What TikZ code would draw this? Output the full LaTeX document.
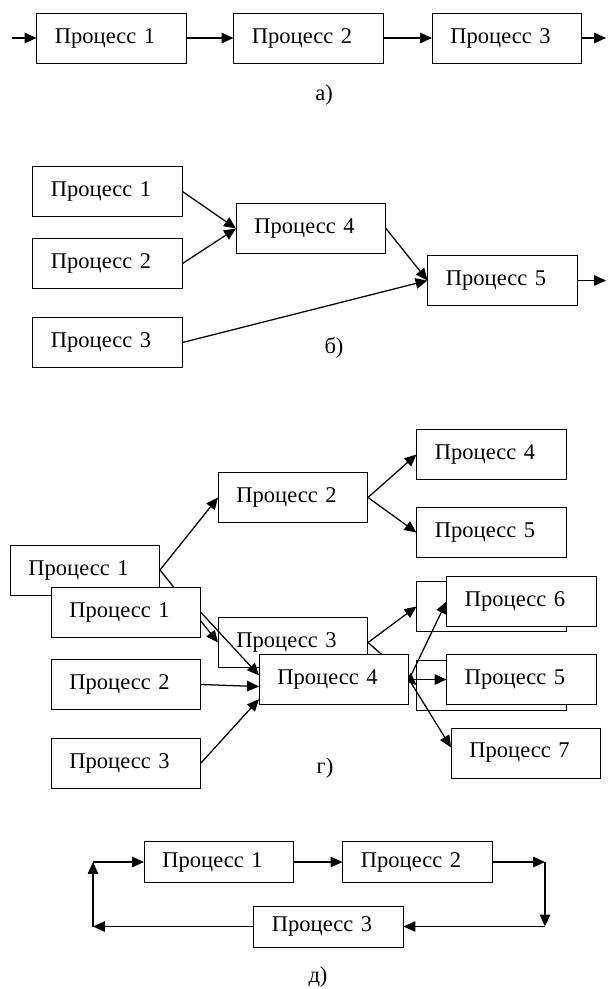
\documentclass[tikz,border=0pt]{standalone}
\usepackage{fontspec}
\setmainfont{Liberation Serif}
\usetikzlibrary{arrows.meta}
\tikzset{proc/.style = {draw, fill = white, line width = 0.7pt, minimum height = 1.25cm, text width = 2.825cm, inner xsep = 0.45cm, align = left},
  arr/.style = {line width = 0.9pt, -{Triangle[length = 8.5pt, width = 7.5pt]}}}

\begin{document}
\begin{tikzpicture}[x = 0.025cm, y = -0.025cm, font = \fontsize{16pt}{19pt}\selectfont]
    \useasboundingbox (0, 0) rectangle (608, 989);

    % a)
    \node [proc] (a1) at (111.5, 38) {Процесс 1};
    \node [proc] (a2) at (308.5, 38) {Процесс 2};
    \node [proc] (a3) at (507, 38) {Процесс 3};
    \coordinate (ain) at (12, 38);
    \coordinate (aout) at (606, 38);
    \draw [arr] (ain) -- (a1);
    \draw [arr] (a1) -- (a2);
    \draw [arr] (a2) -- (a3);
    \draw [arr] (a3) -- (aout);
    \node (la) at (324, 95) {а)};

    % b)
    \node [proc] (b1) at (107.5, 191.5) {Процесс 1};
    \node [proc] (b2) at (107.5, 263.5) {Процесс 2};
    \node [proc] (b3) at (107.5, 342.5) {Процесс 3};
    \node [proc] (b4) at (311, 228.5) {Процесс 4};
    \node [proc] (b5) at (502.5, 280.5) {Процесс 5};
    \coordinate (bout) at (606, 280.5);
    \draw [arr] (b1.east) -- (b4.west);
    \draw [arr] (b2.east) -- (b4.west);
    \draw [arr] (b4.east) -- (b5.west);
    \draw [arr] (b3.east) -- (b5.west);
    \draw [arr] (b5) -- (bout);
    \node (lb) at (334, 348) {б)};

    % g), lower layer
    \node [proc] (g1) at (85, 570) {Процесс 1};
    \node [proc] (g2) at (293, 497.5) {Процесс 2};
    \node [proc] (g4) at (491.5, 454.5) {Процесс 4};
    \node [proc] (g5) at (491.5, 532.5) {Процесс 5};
    \node [proc] (g3) at (293, 642.5) {Процесс 3};
    \node [proc] (g6) at (491.5, 606.5) {};
    \node [proc] (g7) at (491.5, 685) {};
    \draw [arr] (g1.east) -- (g2.west);
    \draw [arr] (g1.east) -- (g3.west);
    \draw [arr] (g2.east) -- (g4.west);
    \draw [arr] (g2.east) -- (g5.west);
    \draw [arr] (g3.east) -- (g6.west);
    \draw [arr] (g3.east) -- (g7.west);

    % g), upper layer
    \node [proc] (h1) at (126, 612.5) {Процесс 1};
    \node [proc] (h2) at (126, 684.5) {Процесс 2};
    \node [proc] (h3) at (126, 763) {Процесс 3};
    \node [proc] (h4) at (334, 679.5) {Процесс 4};
    \node [proc] (h6) at (521.5, 601.5) {Процесс 6};
    \node [proc] (h5) at (521.5, 679.5) {Процесс 5};
    \node [proc] (h7) at (526, 753) {Процесс 7};
    \draw [arr] (h1.east) -- ([yshift = 3pt] h4.west);
    \draw [arr] (h2.east) -- ([yshift = -5pt] h4.west);
    \draw [arr] (h3.east) -- ([yshift = -14pt] h4.west);
    \draw [arr] (h4.east) -- (h6.west);
    \draw [arr] (h4.east) -- (h5.west);
    \draw [arr] (h4.east) -- ([yshift = 4pt] h7.west);
    \node (lg) at (325, 768) {г)};

    % d)
    \node [proc, minimum height = 1.025cm] (d1) at (219, 862) {Процесс 1};
    \node [proc, minimum height = 1.025cm] (d2) at (417.5, 862) {Процесс 2};
    \node [proc, minimum height = 1.025cm] (d3) at (328.5, 926.5) {Процесс 3};
    \coordinate (c1) at (545, 862);
    \coordinate (c2) at (545, 926.5);
    \coordinate (c3) at (93, 926.5);
    \coordinate (c4) at (93, 862);
    \draw [arr] (d1) -- (d2);
    \draw [arr] (d2) -- (c1);
    \draw [arr] (c1) -- (c2);
    \draw [arr] (c2) -- (d3);
    \draw [arr] (d3) -- (c3);
    \draw [arr] (c3) -- (c4);
    \draw [arr] (c4) -- (d1);
    \node (ld) at (318, 977) {д)};
\end{tikzpicture}
\end{document}
